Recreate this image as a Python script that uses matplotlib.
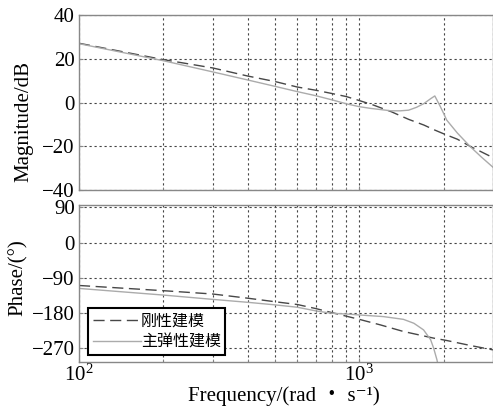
import matplotlib
matplotlib.use("Agg")
import matplotlib.pyplot as plt
from matplotlib.ticker import LogLocator, NullFormatter, FixedLocator

plt.rcParams['font.family'] = ['Liberation Serif', 'DejaVu Serif', 'Noto Sans CJK SC']
plt.rcParams['mathtext.fontset'] = 'stix'
plt.rcParams['axes.unicode_minus'] = True

# ---- data ----
mag_rigid_f = [100, 200, 300, 400, 500, 600, 700, 800, 900, 1000, 1120, 1300,
               1500, 1700, 1860, 2000, 2240, 2500, 2720, 3000]
mag_rigid_db = [27.1, 19.6, 15.8, 12.1, 9.6, 7.1, 5.6, 4.1, 2.7, 0.9, -1.1, -4.2,
                -7.7, -10.3, -12.6, -14.3, -16.8, -20.2, -22.5, -25.2]

mag_elastic_f = [100, 200, 300, 400, 500, 600, 700, 800, 900, 1000, 1100, 1300,
                 1400, 1500, 1600, 1700, 1800, 1860, 1940, 2000, 2050, 2240,
                 2490, 2720, 3000]
mag_elastic_db = [26.9, 19.1, 14.0, 10.3, 7.4, 5.0, 3.1, 1.2, -0.6, -1.9, -2.7, -3.8,
                  -3.8, -3.5, -2.2, -0.5, 1.8, 3.0, -1.5, -5.0, -8.0, -14.0,
                  -20.2, -24.8, -29.6]

ph_rigid_f = [100, 200, 300, 400, 500, 600, 700, 800, 900, 1000, 1187, 1437,
              1843, 2050, 2500, 3000]
ph_rigid_deg = [-109.5, -122.8, -131.3, -142, -151, -158, -168.5, -179, -188, -196,
                -210, -227, -244, -250, -263, -274]

ph_elastic_f = [100, 200, 300, 400, 500, 600, 707, 800, 930, 1009, 1220, 1437,
                1566, 1696, 1797, 1843, 1894, 1930]
ph_elastic_deg = [-117, -134, -145, -152.5, -159, -165, -175, -180.5, -183, -185,
                  -189, -196, -206, -223, -248, -270, -300, -330]

mag_ticks = [-40, -20, 0, 20, 40]
ph_ticks = [-270, -180, -90, 0, 90]
legend_labels = ['刚性建模', '主弹性建模']

# ---- figure ----
fig = plt.figure(figsize=(4.93, 4.08), dpi=100)
ax1 = fig.add_axes([0.1602, 0.5343, 0.8398, 0.4289])
ax2 = fig.add_axes([0.1602, 0.1127, 0.8398, 0.3848])

rigid_kw = dict(color='#474747', lw=1.0, dashes=(8, 4))
elastic_kw = dict(color='#ababab', lw=1.0)

ax1.plot(mag_rigid_f, mag_rigid_db, **rigid_kw)
ax1.plot(mag_elastic_f, mag_elastic_db, **elastic_kw)
ax2.plot(ph_rigid_f, ph_rigid_deg, label=legend_labels[0], **rigid_kw)
ax2.plot(ph_elastic_f, ph_elastic_deg, label=legend_labels[1], **elastic_kw)

for ax in (ax1, ax2):
    ax.set_xscale('log')
    ax.set_xlim(100, 3000)
    ax.xaxis.set_major_locator(LogLocator(base=10, numticks=10))
    ax.xaxis.set_minor_locator(LogLocator(base=10, subs=range(2, 10), numticks=20))
    ax.xaxis.set_minor_formatter(NullFormatter())
    ax.grid(True, which='both', axis='x', color='#444444', lw=0.8,
            linestyle=(0, (2, 2.5)))
    ax.grid(True, which='major', axis='y', color='#444444', lw=0.8,
            linestyle=(0, (2, 2.5)))
    ax.set_axisbelow(True)
    for s in ax.spines.values():
        s.set_color('#888888')
        s.set_linewidth(1.0)
    ax.tick_params(which='both', direction='in', colors='#888888',
                   labelcolor='black', labelsize=15, pad=3)
    ax.tick_params(which='major', length=3)
    ax.tick_params(which='minor', length=2)

ax1.set_ylim(-40, 40)
ax1.yaxis.set_major_locator(FixedLocator(mag_ticks))
ax1.xaxis.set_major_formatter(NullFormatter())
ax1.set_ylabel('Magnitude/dB', fontsize=15)
ax1.yaxis.set_label_coords(-0.111, 0.394)

ax2.set_ylim(-305, 96)
ax2.yaxis.set_major_locator(FixedLocator(ph_ticks))
ax2.tick_params(axis='x', which='both', pad=1.5)
ax2.set_ylabel('Phase/(°)', fontsize=15)
ax2.yaxis.set_label_coords(-0.123, 0.535)
ax2.set_xlabel('Frequency/(rad ・ s⁻¹)', fontsize=15)
ax2.xaxis.set_label_coords(0.494, -0.152)

leg = ax2.legend(loc='lower left', bbox_to_anchor=(0.0217, 0.0446),
                 borderaxespad=0, handlelength=3.0, handletextpad=0.0,
                 fancybox=False, framealpha=1, edgecolor='black',
                 prop={'family': ['Noto Sans CJK SC'], 'size': 11.5},
                 borderpad=0.3, labelspacing=0.2)
leg.get_frame().set_linewidth(1.5)

fig.savefig('out.png', dpi=100)
